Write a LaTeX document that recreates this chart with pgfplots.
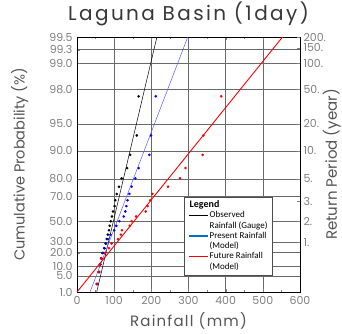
\documentclass[border=0pt]{standalone}
\usepackage{fontspec}
\setmainfont{Poppins}
\newfontfamily\legfont{Carlito}
\usepackage{pgfplots}
\usepackage{pgfplotstable}
\pgfplotsset{compat=1.18}
\definecolor{tickgray}{RGB}{128,128,128}
\definecolor{labgray}{RGB}{85,85,85}
\definecolor{gridgray}{RGB}{105,105,105}
\definecolor{lineblue}{RGB}{90,90,255}
\definecolor{legblue}{RGB}{0,112,192}
\pgfplotstableread{
x y
53 -1.3139
59 -0.9918
62 -0.7888
65 -0.6264
70 -0.4845
74 -0.3542
77 -0.2309
80 -0.1113
83 0.0064
86 0.1243
88 0.2438
91 0.3665
94 0.4941
97 0.6283
101 0.7713
103 0.9263
107 1.0975
113 1.2910
120 1.5155
135 1.7884
143 2.1422
161 2.6614
166 3.7083
}\obs
\pgfplotstableread{
x y
55 -1.3139
60 -0.9918
63 -0.7888
66 -0.6264
68 -0.4845
73 -0.3542
78 -0.2309
83 -0.1113
90 0.0064
100 0.1243
106 0.2438
114 0.3665
126 0.4941
130 0.6283
133 0.7713
136 0.9263
141 1.0975
147 1.2910
157 1.5155
166 1.7884
195 2.1422
199 2.6614
212 3.7083
}\pres
\pgfplotstableread{
x y
53 -1.3139
58 -0.9918
62 -0.7888
65 -0.6264
75 -0.4845
86 -0.3542
93 -0.2309
110 -0.1113
118 0.0064
121 0.1243
142 0.2438
147 0.3665
159 0.4941
185 0.6283
190 0.7713
197 0.9263
203 1.0975
245 1.2910
277 1.5155
292 1.7884
338 2.1422
340 2.6614
388 3.7083
}\fut
\begin{document}
\begin{tikzpicture}
\path[use as bounding box] (-77pt,-41pt) rectangle (265pt,292pt);
\begin{axis}[
  name=main,
  scale only axis, width=223pt, height=255pt,
  xmin=0, xmax=600, ymin=-1.52718, ymax=5.29581,
  xtick={0,100,200,300,400,500,600},
  minor x tick num=1,
  ytick={-1.52718,-1.09719,-0.83403,-0.47588,-0.18563,0.36651,1.03093,1.49994,2.25037,2.97020,3.90194,4.60015,4.95842,5.29581},
  yticklabels={1.0,5.0,10.0,20.0,30.0,50.0,70.0,80.0,90.0,95.0,98.0,99.0,99.3,99.5},
  ytick pos=left,
  xtick pos=both,
  tick align=inside,
  major tick length=3pt, minor tick length=2pt,
  grid=major,
  major grid style={gridgray, line width=0.6pt},
  axis line style={black, line width=0.8pt},
  /pgf/number format/assume math mode=true,
  tick label style={font=\fontsize{11}{11}\selectfont, text=tickgray},
  xticklabel style={yshift=-1pt},
  yticklabel style={xshift=-1pt},
  title={Laguna Basin (1day)},
  title style={font=\fontsize{20}{20}\selectfont\addfontfeature{LetterSpace=12}, text=black!78,
    at={(axis description cs:0.5,1.066)}, anchor=center},
  xlabel={Rainfall (mm)},
  xlabel style={font=\fontsize{15}{15}\selectfont\addfontfeature{LetterSpace=8}, text=labgray,
    at={(axis description cs:0.5,-0.112)}, anchor=center},
  ylabel={Cumulative Probability (\%)},
  ylabel style={font=\fontsize{14.5}{14.5}\selectfont, text=labgray,
    at={(axis description cs:-0.257,0.5)}, anchor=center},
  legend image code/.code={\draw[#1] (0pt,0pt) -- (19pt,0pt);},
  legend style={at={(0.48,0.373)}, anchor=north west, draw=black!70,
    font=\legfont\fontsize{9}{10}\selectfont, fill=white,
    nodes={inner sep=0.9pt, text height=6.5pt, text depth=2pt}, row sep=0pt, inner sep=3pt, inner xsep=4pt},
  legend cell align=left,
]
\addlegendimage{empty legend}
\addlegendentry{\hspace*{-20pt}\fontsize{10}{11}\selectfont\bfseries Legend}
\addlegendimage{black, line width=1.6pt}
\addlegendentry{Observed}
\addlegendimage{empty legend}
\addlegendentry{Rainfall (Gauge)}
\addlegendimage{legblue, line width=1.5pt}
\addlegendentry{Present Rainfall}
\addlegendimage{empty legend}
\addlegendentry{(Model)}
\addlegendimage{red, line width=1.5pt}
\addlegendentry{Future Rainfall}
\addlegendimage{empty legend}
\addlegendentry{(Model)}
\addplot[black, line width=0.5pt, forget plot] coordinates {(53,-1.52718) (215,5.29581)};
\addplot[lineblue, line width=0.5pt, forget plot] coordinates {(35,-1.52718) (298,5.29581)};
\addplot[red, line width=0.9pt, forget plot] coordinates {(0,-1.52718) (553,5.29581)};
\addplot[only marks, mark=*, mark size=1.1pt, black, forget plot] table {\obs};
\addplot[only marks, mark=*, mark size=1.1pt, blue, forget plot] table {\pres};
\addplot[only marks, mark=*, mark size=1.1pt, red, forget plot] table {\fut};
\end{axis}
\begin{axis}[
  scale only axis, width=223pt, height=255pt,
  xmin=0, xmax=600, ymin=-1.52718, ymax=5.29581,
  axis x line=none,
  axis y line*=right,
  axis line style={black, line width=0.8pt},
  ytick={-0.2,0.36651,0.90272,1.49994,2.25037,2.97020,3.90194,4.60015,5.00714,5.29581},
  yticklabels={1.,2.,3.,5.,10.,20.,50.,100.,150.,200.},
  tick align=inside, major tick length=3pt,
  tick label style={font=\fontsize{11}{11}\selectfont, text=tickgray},
  ylabel={Return Period (year)},
  ylabel style={font=\fontsize{15}{15}\selectfont, text=labgray,
    at={(axis description cs:1.143,0.5)}, anchor=center, rotate=0},
]
\end{axis}
\end{tikzpicture}
\end{document}
